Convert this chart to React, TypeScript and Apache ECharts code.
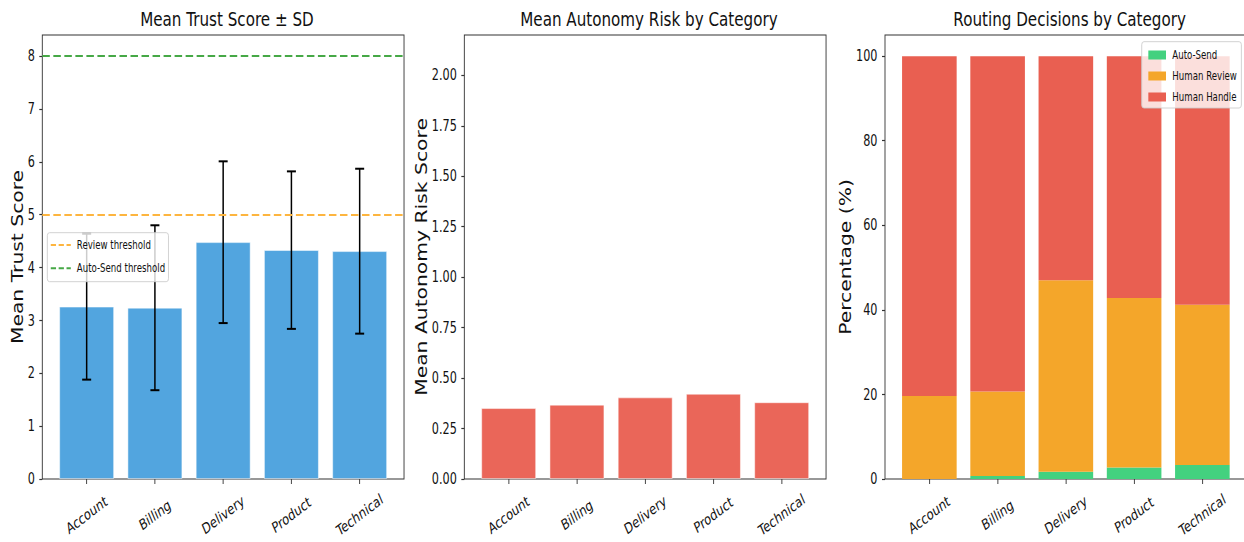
import React, { useEffect, useRef } from 'react';
import * as echarts from 'echarts';

// ---- data ----
const categories = ['Account', 'Billing', 'Delivery', 'Product', 'Technical'];
const trustMean = [3.26, 3.24, 4.48, 4.33, 4.31];
const trustSd = [1.38, 1.56, 1.53, 1.49, 1.56];
const riskMean = [0.351, 0.368, 0.404, 0.422, 0.38];
const autoSendPct = [0, 0.7, 1.7, 2.7, 3.3];
const humanReviewPct = [19.6, 20.0, 45.3, 40.1, 37.9];
const humanHandlePct = [80.4, 79.3, 53.0, 57.2, 58.8];
const REVIEW_THRESHOLD = 5;
const AUTO_SEND_THRESHOLD = 8;

const trustTicks = [0, 1, 2, 3, 4, 5, 6, 7, 8];
const riskTicks = [0, 0.25, 0.5, 0.75, 1.0, 1.25, 1.5, 1.75, 2.0];
const pctTicks = [0, 20, 40, 60, 80, 100];

// ---- layout ----
const SX = 0.75; // horizontal squeeze applied to the whole drawing
const INNER_W = 1680;
const H = 542;
const FONT = 'DejaVu Sans';
const TEXT = '#111111';
const AXIS = '#333333';
const GRID_TOP = 35;
const GRID_H = 444;
const GRID_W = 482.3;
const GRID_LEFTS = [56.4, 619.1, 1180];
const TICK_FONT = 15;
const catIdx = categories.map((_, i) => i);

const xAxisFor = (gridIndex: number) => ({
  type: 'value',
  gridIndex,
  min: -0.65,
  max: 4.65,
  axisLine: { show: false, onZero: false },
  splitLine: { show: false },
  axisTick: {
    show: true,
    customValues: catIdx,
    length: 5,
    lineStyle: { color: AXIS, width: 1.2 },
  },
  axisLabel: {
    customValues: catIdx,
    formatter: (v: number) => categories[Math.round(v)] ?? '',
    rotate: 30,
    align: 'center',
    verticalAlign: 'middle',
    margin: 36,
    fontFamily: FONT,
    fontSize: TICK_FONT,
    color: TEXT,
  },
});

const yAxisFor = (
  gridIndex: number,
  max: number,
  ticks: number[],
  fmt: (v: number) => string,
  name: string,
  nameGap: number
) => ({
  type: 'value',
  gridIndex,
  min: 0,
  max,
  axisLine: { show: false, onZero: false },
  splitLine: { show: false },
  axisTick: {
    show: true,
    customValues: ticks,
    length: 4,
    lineStyle: { color: AXIS, width: 1.2 },
  },
  axisLabel: {
    customValues: ticks,
    formatter: fmt,
    margin: 10,
    fontFamily: FONT,
    fontSize: TICK_FONT,
    color: TEXT,
  },
  name,
  nameLocation: 'middle',
  nameRotate: 90,
  nameGap,
  nameTextStyle: { fontFamily: FONT, fontSize: 20.3, color: TEXT },
});

const titleFor = (text: string, gridIndex: number) => ({
  text,
  left: GRID_LEFTS[gridIndex] + GRID_W / 2,
  top: 4,
  textAlign: 'center',
  textStyle: { fontFamily: FONT, fontSize: 20.2, fontWeight: 'normal', color: TEXT },
});

const DASH = [10, 4.7];

const thresholdSeries = (name: string, value: number, color: string) => ({
  name,
  type: 'line',
  xAxisIndex: 0,
  yAxisIndex: 0,
  data: [],
  color,
  symbol: 'none',
  lineStyle: { color, width: 2, type: DASH },
  markLine: {
    silent: true,
    symbol: ['none', 'none'],
    label: { show: false },
    lineStyle: { color, width: 2, type: DASH },
    data: [{ yAxis: value }],
  },
  z: 3,
});

const errorBarItem = (params: any, api: any) => {
  const x = api.value(0);
  const lo = api.coord([x, api.value(1)]);
  const hi = api.coord([x, api.value(2)]);
  const cap = 6;
  const style = { stroke: '#000000', lineWidth: 2 };
  return {
    type: 'group',
    children: [
      { type: 'line', shape: { x1: lo[0], y1: lo[1], x2: hi[0], y2: hi[1] }, style },
      { type: 'line', shape: { x1: hi[0] - cap, y1: hi[1], x2: hi[0] + cap, y2: hi[1] }, style },
      { type: 'line', shape: { x1: lo[0] - cap, y1: lo[1], x2: lo[0] + cap, y2: lo[1] }, style },
    ],
  };
};

const barEdge = { borderColor: 'rgba(255,255,255,0.7)', borderWidth: 0.8 };

// Stacked routing shares: value in column 0, category position in column 1,
// so the stack is computed on the percentage dimension.
const routingSeries = (name: string, values: number[], color: string) => ({
  name,
  type: 'bar',
  stack: 'routing',
  xAxisIndex: 2,
  yAxisIndex: 2,
  barWidth: '80%',
  encode: { x: 1, y: 0 },
  data: values.map((v, i) => [v, i]),
  itemStyle: { color },
});

const legendBox = {
  orient: 'vertical',
  backgroundColor: 'rgba(255,255,255,0.8)',
  borderColor: '#cccccc',
  borderWidth: 1,
  borderRadius: 3,
  selectedMode: false,
  z: 10,
};

const option: any = {
  animation: false,
  backgroundColor: '#ffffff',
  title: [
    titleFor('Mean Trust Score ± SD', 0),
    titleFor('Mean Autonomy Risk by Category', 1),
    titleFor('Routing Decisions by Category', 2),
  ],
  grid: GRID_LEFTS.map((left) => ({
    left,
    top: GRID_TOP,
    width: GRID_W,
    height: GRID_H,
    show: true,
    borderColor: AXIS,
    borderWidth: 1.2,
    backgroundColor: 'transparent',
    outerBoundsMode: 'none',
  })),
  xAxis: [xAxisFor(0), xAxisFor(1), xAxisFor(2)],
  yAxis: [
    yAxisFor(0, 8.4, trustTicks, (v) => String(v), 'Mean Trust Score', 22),
    yAxisFor(1, 2.2, riskTicks, (v) => v.toFixed(2), 'Mean Autonomy Risk Score', 45),
    yAxisFor(2, 105, pctTicks, (v) => String(v), 'Percentage (%)', 42),
  ],
  legend: [
    {
      ...legendBox,
      data: ['Review threshold', 'Auto-Send threshold'],
      left: 63.1,
      top: 232.7,
      itemWidth: 26.7,
      itemHeight: 12,
      itemGap: 9.3,
      padding: [5.3, 4.4, 6.4, 3.6],
      itemStyle: { opacity: 0 },
      lineStyle: { width: 2, type: [7, 3.5] },
      textStyle: { fontFamily: FONT, fontSize: 11.5, color: TEXT, lineHeight: 14, padding: [0, 0, 0, 3] },
    },
    {
      ...legendBox,
      data: ['Auto-Send', 'Human Review', 'Human Handle'],
      left: 1522.3,
      top: 41.7,
      icon: 'rect',
      itemWidth: 23.6,
      itemHeight: 9,
      itemGap: 7,
      padding: [6.3, 5.9, 4, 8.8],
      textStyle: { fontFamily: FONT, fontSize: 11.5, color: TEXT, lineHeight: 14, padding: [0, 0, 0, 3.4] },
    },
  ],
  series: [
    {
      name: 'Mean Trust',
      type: 'bar',
      xAxisIndex: 0,
      yAxisIndex: 0,
      barWidth: '80%',
      data: trustMean.map((v, i) => [i, v]),
      itemStyle: { color: '#52a5df', ...barEdge },
      z: 2,
    },
    {
      name: 'SD',
      type: 'custom',
      xAxisIndex: 0,
      yAxisIndex: 0,
      renderItem: errorBarItem,
      encode: { x: 0, y: [1, 2] },
      data: trustMean.map((m, i) => [i, m - trustSd[i], m + trustSd[i]]),
      z: 4,
    },
    thresholdSeries('Review threshold', REVIEW_THRESHOLD, '#fdb53f'),
    thresholdSeries('Auto-Send threshold', AUTO_SEND_THRESHOLD, '#46a846'),
    {
      name: 'Mean Autonomy Risk',
      type: 'bar',
      xAxisIndex: 1,
      yAxisIndex: 1,
      barWidth: '80%',
      data: riskMean.map((v, i) => [i, v]),
      itemStyle: { color: '#ea6659', ...barEdge },
    },
    routingSeries('Auto-Send', autoSendPct, '#43d17f'),
    routingSeries('Human Review', humanReviewPct, '#f4a62a'),
    routingSeries('Human Handle', humanHandlePct, '#e95f51'),
  ],
};

export default function App() {
  const ref = useRef<HTMLDivElement>(null);

  useEffect(() => {
    if (!ref.current) return;
    const chart = echarts.init(ref.current, null, { renderer: 'svg', width: INNER_W, height: H });
    chart.setOption(option);
    return () => chart.dispose();
  }, []);

  return (
    <div
      style={{
        position: 'fixed',
        left: 0,
        top: 0,
        width: 1244,
        height: H,
        overflow: 'hidden',
        background: '#ffffff',
      }}
    >
      <div
        ref={ref}
        style={{
          width: INNER_W,
          height: H,
          transform: `scaleX(${SX})`,
          transformOrigin: '0 0',
        }}
      />
    </div>
  );
}
